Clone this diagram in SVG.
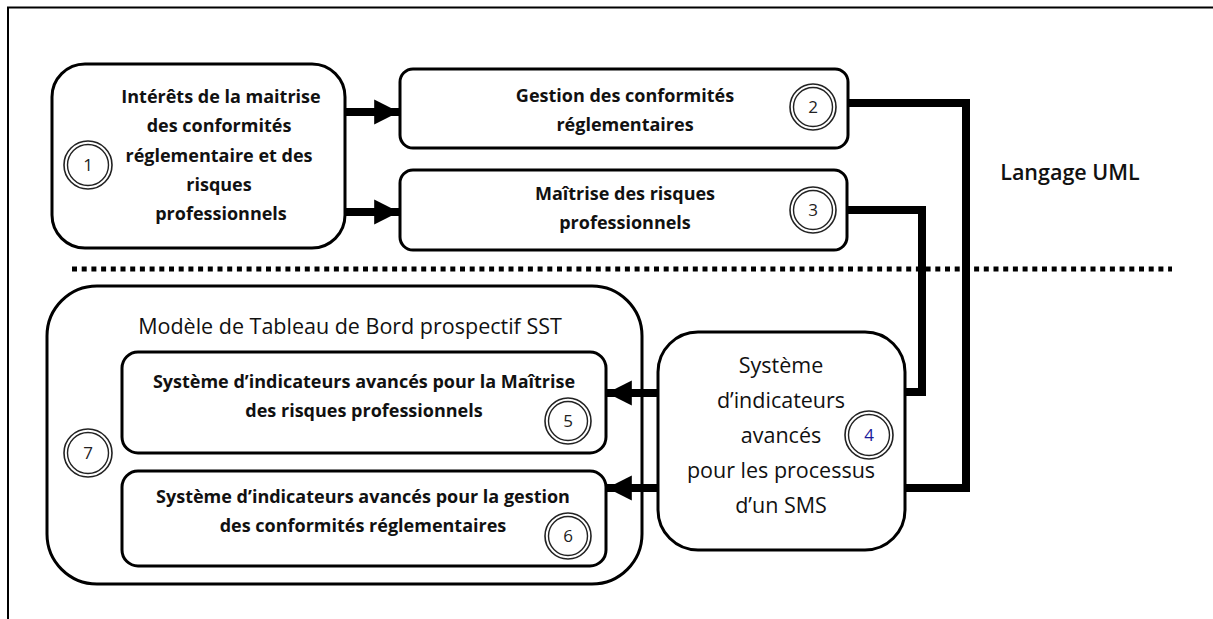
<svg xmlns="http://www.w3.org/2000/svg" width="1213" height="619" viewBox="0 0 1213 619">
<defs>
<style>
.box{fill:#fff;stroke:#000;stroke-width:3}
.b{font-family:"Open Sans","Liberation Sans",Arial,sans-serif;font-weight:bold;font-size:18px;fill:#111;text-anchor:middle}
.r{font-family:"Open Sans","Liberation Sans",Arial,sans-serif;font-size:21.5px;fill:#111;text-anchor:middle}
.num{font-family:"Open Sans","Liberation Sans",Arial,sans-serif;font-size:17px;fill:#222;text-anchor:middle}
.ring{fill:#fff;stroke:#222;stroke-width:1.6}
.ring2{fill:none;stroke:#222;stroke-width:1.4}
.wire{fill:none;stroke:#000;stroke-width:8}
</style>
<marker id="ah" viewBox="0 0 10 10" refX="10" refY="5" markerWidth="3.1" markerHeight="3.6" markerUnits="strokeWidth" orient="auto">
<path d="M0,0 L10,5 L0,10 Z" fill="#000"/>
</marker>
</defs>
<rect width="1213" height="619" fill="#fff"/>
<g id="frame">
<line x1="7" y1="7.5" x2="1213" y2="7.5" stroke="#000" stroke-width="2"/>
<line x1="8" y1="7" x2="8" y2="619" stroke="#000" stroke-width="2"/>
<line x1="72" y1="269" x2="1172" y2="269" stroke="#000" stroke-width="5" stroke-dasharray="5 4.7"/>
</g>
<g id="label-uml"><text x="1070" y="180" font-family="Open Sans, Liberation Sans, Arial, sans-serif" font-weight="600" font-size="21.5" fill="#111" text-anchor="middle">Langage UML</text></g>

<g id="node1">
<rect class="box" x="52" y="64" width="293" height="184" rx="33"/>
<text class="b" x="221" y="103">Intérêts de la maitrise</text>
<text class="b" x="219" y="132">des conformités</text>
<text class="b" x="219" y="162">réglementaire et des</text>
<text class="b" x="219" y="191">risques</text>
<text class="b" x="221" y="220">professionnels</text>
<circle class="ring" cx="88" cy="165" r="24"/><circle class="ring2" cx="88" cy="165" r="20.5"/>
<text class="num" x="88" y="171">1</text>
</g>

<g id="node2">
<rect class="box" x="400" y="69" width="448" height="79" rx="13"/>
<text class="b" x="625" y="102">Gestion des conformités</text>
<text class="b" x="625" y="131">réglementaires</text>
<circle class="ring" cx="813" cy="107" r="23"/><circle class="ring2" cx="813" cy="107" r="19.5"/>
<text class="num" x="813" y="113">2</text>
</g>

<g id="node3">
<rect class="box" x="400" y="170" width="447" height="80" rx="13"/>
<text class="b" x="625" y="200">Maîtrise des risques</text>
<text class="b" x="625" y="229">professionnels</text>
<circle class="ring" cx="813" cy="210" r="23"/><circle class="ring2" cx="813" cy="210" r="19.5"/>
<text class="num" x="813" y="216">3</text>
</g>

<g id="node7">
<rect class="box" x="47" y="286" width="595" height="298" rx="50"/>
<text class="r" x="350" y="334" font-size="24">Modèle de Tableau de Bord prospectif SST</text>
<circle class="ring" cx="88" cy="453" r="24"/><circle class="ring2" cx="88" cy="453" r="20.5"/>
<text class="num" x="88" y="459">7</text>
</g>

<g id="node5">
<rect class="box" x="122" y="352" width="484" height="101" rx="16"/>
<text class="b" x="364" y="388">Système d’indicateurs avancés pour la Maîtrise</text>
<text class="b" x="364" y="417">des risques professionnels</text>
<circle class="ring" cx="568" cy="421" r="23"/><circle class="ring2" cx="568" cy="421" r="19.5"/>
<text class="num" x="568" y="427">5</text>
</g>

<g id="node6">
<rect class="box" x="122" y="471" width="484" height="95" rx="16"/>
<text class="b" x="363" y="503">Système d’indicateurs avancés pour la gestion</text>
<text class="b" x="363" y="532">des conformités réglementaires</text>
<circle class="ring" cx="568" cy="536" r="23"/><circle class="ring2" cx="568" cy="536" r="19.5"/>
<text class="num" x="568" y="542">6</text>
</g>

<g id="node4">
<rect class="box" x="658" y="332" width="247" height="218" rx="40"/>
<text class="r" x="781" y="373">Système</text>
<text class="r" x="781" y="408">d’indicateurs</text>
<text class="r" x="781" y="443">avancés</text>
<text class="r" x="781" y="478">pour les processus</text>
<text class="r" x="781" y="513">d’un SMS</text>
<circle class="ring" cx="869" cy="435" r="24"/><circle class="ring2" cx="869" cy="435" r="20.5"/>
<text class="num" x="869" y="441" style="fill:#1a1a9a">4</text>
</g>

<g id="connectors">
<line class="wire" x1="345" y1="112" x2="399" y2="112" marker-end="url(#ah)"/>
<line class="wire" x1="345" y1="212" x2="399" y2="212" marker-end="url(#ah)"/>
<polyline class="wire" points="849,103 966,103 966,488 905,488"/>
<polyline class="wire" points="847,210 922,210 922,392 905,392"/>
<line class="wire" x1="657" y1="393" x2="607" y2="393" marker-end="url(#ah)"/>
<line class="wire" x1="657" y1="488" x2="607" y2="488" marker-end="url(#ah)"/>
</g>
</svg>
